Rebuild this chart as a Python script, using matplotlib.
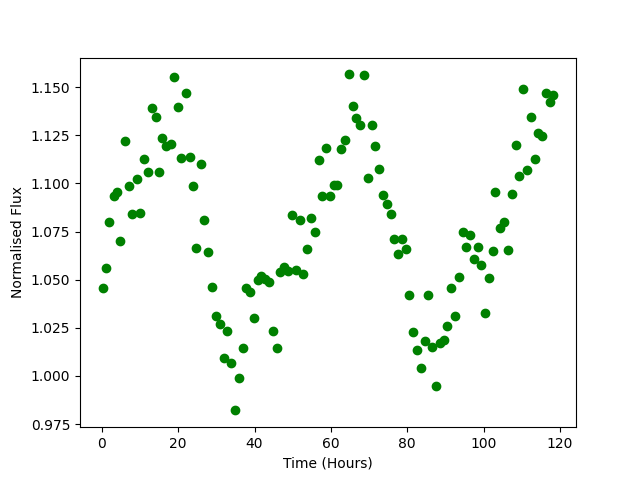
import matplotlib
matplotlib.use("Agg")
import matplotlib.pyplot as plt

# time of each measurement in hours
time_hours = [
	0.2, 1.0, 2.0, 3.1, 4.1, 4.9, 6.0, 7.0, 8.0, 9.1,
	10.0, 11.0, 12.0, 13.1, 14.1, 15.0, 15.9, 16.9, 18.0, 19.0,
	19.9, 20.8, 22.0, 23.0, 23.8, 24.8, 25.9, 26.9, 27.9, 28.8,
	29.8, 30.9, 31.9, 32.9, 33.8, 34.8, 35.9, 36.9, 37.9, 38.9,
	39.9, 40.9, 41.8, 42.8, 43.8, 44.8, 45.9, 46.7, 47.7, 48.7,
	49.8, 50.9, 52.0, 52.8, 53.7, 54.8, 55.8, 56.9, 57.7, 58.7,
	59.9, 60.7, 61.7, 62.6, 63.7, 64.7, 65.8, 66.6, 67.6, 68.7,
	69.7, 70.8, 71.6, 72.6, 73.7, 74.7, 75.8, 76.5, 77.6, 78.6,
	79.7, 80.5, 81.5, 82.6, 83.6, 84.7, 85.5, 86.5, 87.6, 88.6,
	89.7, 90.5, 91.5, 92.6, 93.6, 94.7, 95.4, 96.5, 97.5, 98.6,
	99.4, 100.4, 101.5, 102.4, 103.0, 104.4, 105.4, 106.5, 107.5, 108.6,
	109.3, 110.4, 111.4, 112.5, 113.5, 114.2, 115.4, 116.3, 117.4, 118.3,
]

# normalised flux
norm_flux = [
	1.0455, 1.0560, 1.0799, 1.0932, 1.0955, 1.0699, 1.1218, 1.0984, 1.0839, 1.1021,
	1.0844, 1.1126, 1.1057, 1.1391, 1.1343, 1.1057, 1.1235, 1.1192, 1.1204, 1.1553,
	1.1395, 1.1130, 1.1467, 1.1137, 1.0984, 1.0664, 1.1099, 1.0808, 1.0642, 1.0460,
	1.0311, 1.0268, 1.0091, 1.0231, 1.0065, 0.9821, 0.9987, 1.0143, 1.0456, 1.0437,
	1.0299, 1.0498, 1.0521, 1.0506, 1.0486, 1.0235, 1.0143, 1.0538, 1.0567, 1.0545,
	1.0835, 1.0548, 1.0809, 1.0527, 1.0659, 1.0818, 1.0745, 1.1123, 1.0932, 1.1182,
	1.0932, 1.0991, 1.0991, 1.1177, 1.1223, 1.1566, 1.1403, 1.1339, 1.1301, 1.1561,
	1.1026, 1.1301, 1.1192, 1.1073, 1.0938, 1.0891, 1.0839, 1.0711, 1.0631, 1.0711,
	1.0659, 1.0418, 1.0227, 1.0134, 1.0041, 1.0179, 1.0418, 1.0150, 0.9946, 1.0169,
	1.0185, 1.0257, 1.0455, 1.0311, 1.0512, 1.0747, 1.0668, 1.0730, 1.0607, 1.0668,
	1.0574, 1.0326, 1.0507, 1.0647, 1.0953, 1.0766, 1.0799, 1.0652, 1.0944, 1.1197,
	1.1036, 1.1490, 1.1067, 1.1343, 1.1125, 1.1260, 1.1248, 1.1467, 1.1425, 1.1461,
]

fig = plt.figure(figsize=(6.4, 4.8), dpi=100)
plt.plot(time_hours, norm_flux, "go")
plt.xlabel("Time (Hours)")
plt.ylabel("Normalised Flux")
plt.savefig("out.png")
